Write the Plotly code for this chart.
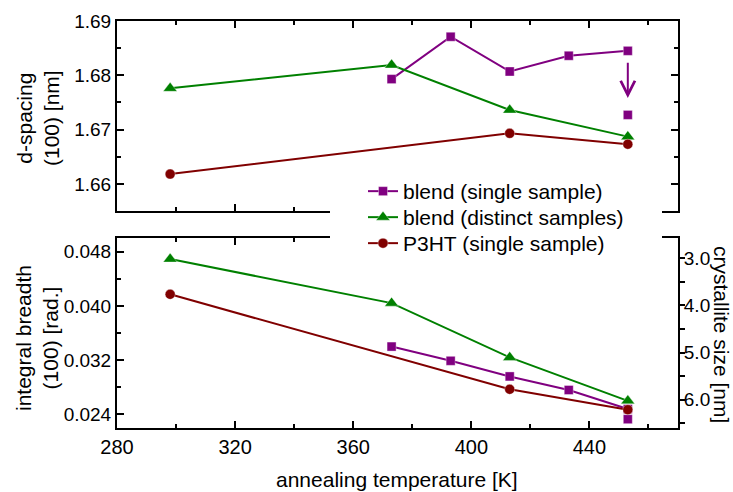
import plotly.graph_objects as go

# ---- data -----------------------------------------------------------------
# annealing temperatures [K]
t_blend_single = [373, 393, 413, 433, 453]
t_blend_distinct = [298, 373, 413, 453]
t_p3ht = [298, 413, 453]
t_blend_extra = [453]

# d-spacing (100) [nm]
d_blend_single = [1.6793, 1.6871, 1.6807, 1.6836, 1.6845]
d_blend_extra = [1.6727]
d_blend_distinct = [1.6776, 1.6819, 1.6736, 1.6687]
d_p3ht = [1.6618, 1.6693, 1.6673]

# integral breadth (100) [rad.]
b_blend_single = [0.0340, 0.0319, 0.0296, 0.0276, 0.0248]
b_blend_extra = [0.0233]
b_blend_distinct = [0.0469, 0.0404, 0.0324, 0.0260]
b_p3ht = [0.0417, 0.0277, 0.0247]

names = ["blend (single sample)", "blend (distinct samples)", "P3HT (single sample)"]

# ---- styling ----------------------------------------------------------------
PURPLE = "#800080"
GREEN = "#008000"
MAROON = "#800000"
FONT = "Liberation Sans, Arial, sans-serif"
XTICK_SIZE = 20
YTICK_SIZE = 19
TITLE_SIZE = 21

W, H = 733, 492
ML, MR, MT, MB = 117, 55, 21, 64
plot_w = W - ML - MR
plot_h = H - MT - MB
top_dom = [(H - MB - 211) / plot_h, 1.0]
bot_dom = [0.0, (H - MB - 238) / plot_h]


def px_to_paper_y(py):
    return 1 - (py - MT) / plot_h


def px_to_paper_x(px):
    return (px - ML) / plot_w


fig = go.Figure()


def series(x, y, color, symbol, size, name, xa, ya, legend=None, mode="lines+markers"):
    fig.add_trace(go.Scatter(
        x=x, y=y, mode=mode, name=name,
        showlegend=legend is not None, legend=legend or "legend",
        xaxis=xa, yaxis=ya,
        line=dict(color=color, width=2),
        marker=dict(color=color, symbol=symbol, size=size,
                    line=dict(color="rgba(255,255,255,0.6)", width=0.6)),
    ))


# top panel: d-spacing
series(t_blend_single, d_blend_single, PURPLE, "square", 9, names[0], "x2", "y2", "legend")
series(t_blend_extra, d_blend_extra, PURPLE, "square", 9, names[0], "x2", "y2", None, "markers")
series(t_blend_distinct, d_blend_distinct, GREEN, "triangle-up", 12, names[1], "x2", "y2", "legend2")
series(t_p3ht, d_p3ht, MAROON, "circle", 10, names[2], "x2", "y2", "legend3")

# bottom panel: integral breadth
series(t_blend_single, b_blend_single, PURPLE, "square", 9, names[0], "x", "y")
series(t_blend_extra, b_blend_extra, PURPLE, "square", 9, names[0], "x", "y", None, "markers")
series(t_blend_distinct, b_blend_distinct, GREEN, "triangle-up", 12, names[1], "x", "y")
series(t_p3ht, b_p3ht, MAROON, "circle", 10, names[2], "x", "y")

# empty trace so the crystallite-size axis is drawn on the bottom panel
fig.add_trace(go.Scatter(x=[], y=[], xaxis="x", yaxis="y3", showlegend=False,
                         hoverinfo="skip"))

xtickfont = dict(family=FONT, size=XTICK_SIZE, color="black")
ytickfont = dict(family=FONT, size=YTICK_SIZE, color="black")
common_x = dict(range=[280, 470], dtick=40, tick0=280, ticks="inside", ticklen=7,
                tickwidth=1.5, tickcolor="black", showline=True, linecolor="black",
                linewidth=2, showgrid=False, zeroline=False, mirror="ticks",
                minor=dict(dtick=20, ticks="inside", ticklen=4, tickcolor="black",
                           tickwidth=1.5),
                tickfont=xtickfont)

legend_font = dict(family=FONT, size=TITLE_SIZE, color="black")
legend_rows = [191.5, 217.5, 243.5]


def legend_at(row_y):
    return dict(x=px_to_paper_x(363), y=px_to_paper_y(row_y), xanchor="left",
                yanchor="middle", bgcolor="rgba(0,0,0,0)", font=legend_font,
                itemwidth=30)


fig.update_layout(
    width=W, height=H,
    margin=dict(l=ML, r=MR, t=MT, b=MB, pad=0),
    plot_bgcolor="white", paper_bgcolor="white",
    font=dict(family=FONT, color="black"),
    xaxis=dict(**common_x, anchor="y", domain=[0, 1]),
    xaxis2=dict(**common_x, anchor="y2", domain=[0, 1], matches="x",
                showticklabels=False),
    yaxis=dict(domain=bot_dom, anchor="x", range=[0.022, 0.050],
               tickvals=[0.024, 0.032, 0.040, 0.048],
               tickformat=".3f", ticks="inside", ticklen=7, tickwidth=1.5,
               tickcolor="black", showline=True, linecolor="black", linewidth=2,
               showgrid=False, zeroline=False, mirror=False,
               minor=dict(tickvals=[0.028, 0.036, 0.044], ticks="inside", ticklen=4,
                          tickcolor="black", tickwidth=1.5),
               tickfont=ytickfont),
    yaxis3=dict(overlaying="y", side="right", anchor="x", range=[6.6, 2.57],
                dtick=1.0, tick0=3.0, tickformat=".1f", ticks="outside", ticklen=5,
                tickwidth=1.5, tickcolor="black", showline=True, linecolor="black",
                linewidth=2, showgrid=False, zeroline=False, ticklabelstandoff=-5,
                minor=dict(dtick=0.5, ticks="outside", ticklen=5, tickcolor="black",
                           tickwidth=1.5),
                tickfont=ytickfont),
    yaxis2=dict(domain=top_dom, anchor="x2", range=[1.655, 1.69], dtick=0.01,
                tick0=1.66, tickformat=".2f", ticks="inside", ticklen=7, tickwidth=1.5,
                tickcolor="black", showline=True, linecolor="black", linewidth=2,
                showgrid=False, zeroline=False, mirror="ticks",
                minor=dict(dtick=0.005, ticks="inside", ticklen=4, tickcolor="black",
                           tickwidth=1.5),
                tickfont=ytickfont),
    legend=legend_at(legend_rows[0]),
    legend2=legend_at(legend_rows[1]),
    legend3=legend_at(legend_rows[2]),
    showlegend=True,
)

# white patch behind the legend, hiding the inner frame lines
fig.add_shape(type="rect", xref="paper", yref="paper", layer="above",
              x0=px_to_paper_x(330), x1=px_to_paper_x(662),
              y0=px_to_paper_y(258), y1=px_to_paper_y(178),
              fillcolor="white", line=dict(width=0))

title_font = dict(family=FONT, size=TITLE_SIZE, color="black")
annotations = [
    dict(text="d-spacing<br>(100) [nm]", x=px_to_paper_x(38), y=px_to_paper_y(118),
         xref="paper", yref="paper", showarrow=False, textangle=-90, font=title_font,
         xanchor="center", yanchor="middle"),
    dict(text="integral breadth<br>(100) [rad.]", x=px_to_paper_x(37), y=px_to_paper_y(338),
         xref="paper", yref="paper", showarrow=False, textangle=-90, font=title_font,
         xanchor="center", yanchor="middle"),
    dict(text="crystallite size [nm]", x=px_to_paper_x(722), y=px_to_paper_y(334),
         xref="paper", yref="paper", showarrow=False, textangle=90, font=title_font,
         xanchor="center", yanchor="middle"),
    dict(text="annealing temperature [K]", x=px_to_paper_x(397), y=px_to_paper_y(479),
         xref="paper", yref="paper", showarrow=False, font=title_font,
         xanchor="center", yanchor="middle"),
    # arrow from the first to the second d-spacing reading of the blend at 453 K
    dict(text="", x=t_blend_extra[0], y=d_blend_extra[0] + 0.0031,
         ax=t_blend_single[-1], ay=d_blend_single[-1] - 0.0019,
         xref="x2", yref="y2", axref="x2", ayref="y2", showarrow=True,
         arrowhead=5, arrowsize=1.4, arrowwidth=2, arrowcolor=PURPLE, standoff=0,
         startstandoff=0),
]
fig.update_layout(annotations=annotations)

fig.write_html("out.html")
